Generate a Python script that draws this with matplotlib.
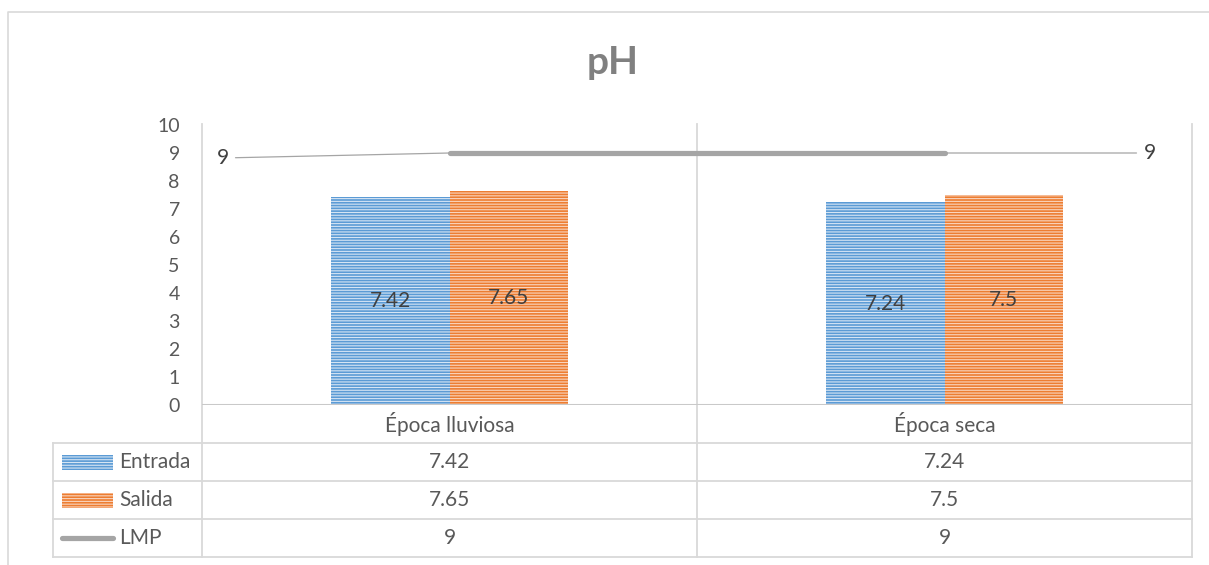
import numpy as np
import matplotlib
matplotlib.use("Agg")
import matplotlib.pyplot as plt
from matplotlib import transforms
from matplotlib.patches import Rectangle

plt.rcParams['font.family'] = ['Lato', 'DejaVu Sans']
plt.rcParams['hatch.linewidth'] = 0.8

# --- Data ---
categories = ["Época lluviosa", "Época seca"]
series_names = ["Entrada", "Salida", "LMP"]
entrada = [7.42, 7.24]
salida = [7.65, 7.5]
lmp = [9, 9]
y_ticks = list(range(0, 11))

# --- Styles ---
blue, blue_stripe = "#5B9BD5", "#d6e5f4"
orange, orange_stripe = "#ED7D31", "#f9d5bf"
gray = "#a5a5a5"
grid_col = "#d9d9d9"
text_col = "#595959"
label_col = "#404040"

W, H = 1209, 565
fig = plt.figure(figsize=(W / 100, H / 100), dpi=100)

# background layer in pixel units (frame, data table grid, legend keys)
frame = fig.add_axes([0, 0, 1, 1])
frame.set_xlim(0, W)
frame.set_ylim(H, 0)
frame.axis('off')

# plot area
left, right, top, bottom = 202, 1192, 125, 405
ax = fig.add_axes([left / W, 1 - bottom / H, (right - left) / W, (bottom - top) / H])
ax.patch.set_visible(False)
for s in ax.spines.values():
    s.set_visible(False)
ax.set_xlim(-0.5, 1.5)
ax.set_ylim(0, 10)
ax.set_xticks([])
ax.set_yticks(y_ticks)
ax.tick_params(axis='y', length=0, pad=16, labelsize=14, labelcolor=text_col)

# outer chart border
frame.plot([8, 8, W], [H, 12, 12], color=grid_col, lw=1.2)

# title
fig.text(613 / W, 1 - 62 / H, "pH", fontsize=28, fontweight='bold',
         color="#808080", ha='center', va='center')

# --- Bars ---
x = np.arange(len(categories))
w = 0.24
b1 = ax.bar(x - w / 2, entrada, w, color=blue, edgecolor=blue_stripe,
            linewidth=0, hatch='------', zorder=2)
b2 = ax.bar(x + w / 2, salida, w, color=orange, edgecolor=orange_stripe,
            linewidth=0, hatch='------', zorder=2)
ax.bar_label(b1, fmt='{:g}', label_type='center', fontsize=15, color=label_col)
ax.bar_label(b2, fmt='{:g}', label_type='center', fontsize=15, color=label_col)

# --- LMP line with leader-line labels ---
ax.plot(x, lmp, color=gray, lw=3.75, solid_capstyle='round', zorder=3)
for xi, yi, off in [(x[0], lmp[0], (-227, -5)), (x[-1], lmp[-1], (205, 0))]:
    ax.annotate(f"{yi:g}", xy=(xi, yi), xytext=off, textcoords='offset pixels',
                ha='center', va='center', fontsize=15, color=label_col,
                arrowprops=dict(arrowstyle='-', color=gray, lw=0.9,
                                shrinkA=3, shrinkB=0))

# category axis baseline
ax.axhline(0, color="#c9c9c9", lw=2.2, zorder=4)

# --- Data table ---
for xv in (left, 697, right):
    frame.plot([xv, xv], [top - 1, 557], color=grid_col, lw=1.3, zorder=0)
frame.plot([53, 53], [443, 557], color=grid_col, lw=1.3)
for yv in (443, 481, 519, 557):
    frame.plot([53, right], [yv, yv], color=grid_col, lw=1.3)

cell = transforms.blended_transform_factory(ax.transData, frame.transData)
row_y = [462, 500, 538]
for i, cat in enumerate(categories):
    ax.text(x[i], 424, cat, transform=cell, ha='center', va='center',
            fontsize=15, color=text_col)
    for ry, vals in zip(row_y, (entrada, salida, lmp)):
        ax.text(x[i], ry, f"{vals[i]:g}", transform=cell, ha='center',
                va='center', fontsize=15, color=text_col)

# legend keys in the first column
frame.add_patch(Rectangle((62, row_y[0] - 7.5), 51, 15, facecolor=blue,
                          edgecolor=blue_stripe, linewidth=0, hatch='------'))
frame.add_patch(Rectangle((62, row_y[1] - 7.5), 51, 15, facecolor=orange,
                          edgecolor=orange_stripe, linewidth=0, hatch='------'))
frame.plot([62, 113], [row_y[2], row_y[2]], color=gray, lw=3.75,
           solid_capstyle='round')
for ry, name in zip(row_y, series_names):
    frame.text(119, ry, name, ha='left', va='center', fontsize=15, color=text_col)

fig.savefig("out.png", dpi=100)
